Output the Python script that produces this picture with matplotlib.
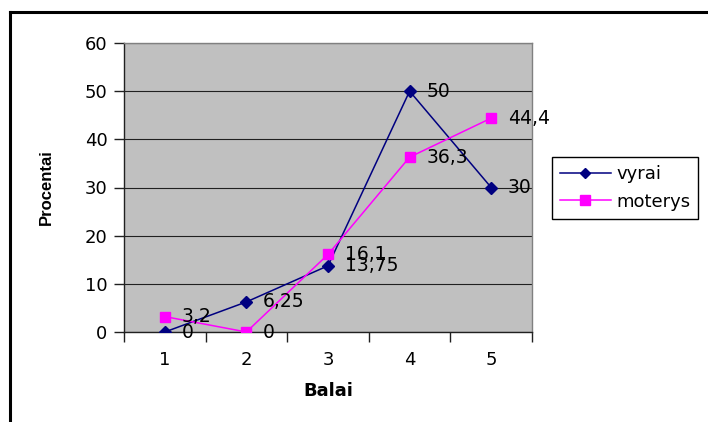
import matplotlib
matplotlib.use("Agg")
import matplotlib.pyplot as plt
from matplotlib.lines import Line2D
from matplotlib.ticker import FixedLocator, MultipleLocator

plt.rcParams["font.family"] = ["DejaVu Sans"]

balai = [1, 2, 3, 4, 5]
vyrai = [0, 6.25, 13.75, 50, 30]
moterys = [3.2, 0, 16.1, 36.3, 44.4]

W, H = 708, 422
fig = plt.figure(figsize=(W / 100, H / 100), dpi=100)
ax = fig.add_axes([124 / W, 1 - 332 / H, (532 - 124) / W, (332 - 43) / H])
ax.set_facecolor("#C0C0C0")

ax.plot(balai, vyrai, color="#000080", marker="D", markersize=6, lw=1.1, label="vyrai", zorder=3)
ax.plot(balai, moterys, color="#FF00FF", marker="s", markersize=7.5, lw=1.1, label="moterys", zorder=3)


def fmt(v):
    return f"{v:g}".replace(".", ",")


for ys in (vyrai, moterys):
    for x, y in zip(balai, ys):
        ax.annotate(fmt(y), (x, y), xytext=(12, 0), textcoords="offset points",
                    ha="left", va="center", fontsize=13.5, clip_on=False, zorder=4)

ax.set_xlim(0.5, 5.5)
ax.set_ylim(0, 60)
ax.yaxis.set_major_locator(MultipleLocator(10))
ax.grid(axis="y", color="#202020", lw=0.8)
ax.set_axisbelow(True)

ax.xaxis.set_major_locator(FixedLocator(balai))
ax.xaxis.set_minor_locator(FixedLocator([0.5, 1.5, 2.5, 3.5, 4.5, 5.5]))
ax.tick_params(axis="x", which="major", length=0, pad=14, labelsize=13)
ax.tick_params(axis="x", which="minor", length=7, width=1, color="#202020")
ax.tick_params(axis="y", length=7, width=1, color="#202020", pad=5, labelsize=13)

for side in ("left", "bottom"):
    ax.spines[side].set_color("#202020")
    ax.spines[side].set_linewidth(1)
for side in ("top", "right"):
    ax.spines[side].set_color("#808080")
    ax.spines[side].set_linewidth(1)

ax.set_xlabel("Balai", fontsize=13, fontweight="bold", labelpad=9)
ax.set_ylabel("Procentai", fontsize=12, fontweight="bold", family="Liberation Sans", labelpad=22)

fig.legend(loc="center left", bbox_to_anchor=(552 / W, 1 - 188 / H), fontsize=13,
           frameon=True, fancybox=False, edgecolor="black", framealpha=1,
           borderaxespad=0, handlelength=2.8, handletextpad=0.3,
           labelspacing=0.5, borderpad=0.45, markerscale=0.9)

# chart area border (top and left edges visible)
fig.add_artist(Line2D([10 / W, 1], [1 - 12 / H, 1 - 12 / H], color="black", lw=2.2, transform=fig.transFigure))
fig.add_artist(Line2D([10 / W, 10 / W], [0, 1 - 12 / H], color="black", lw=2.2, transform=fig.transFigure))

fig.savefig("out.png", dpi=100)
